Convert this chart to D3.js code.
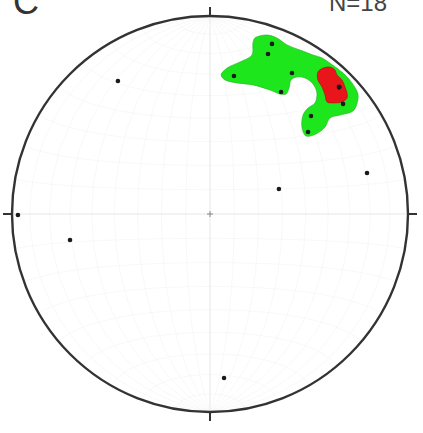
<!DOCTYPE html>
<html><head><meta charset="utf-8">
<script src="https://cdn.jsdelivr.net/npm/d3@7"></script>
<style>html,body{margin:0;padding:0;background:#fff;}svg{display:block;}</style>
</head><body>
<script>
// Poles in normalized net coordinates (east, north), unit circle = primitive
const pointEast  = [-0.465,-0.970,-0.707,0.348,0.793,0.071,0.313,0.293,0.121,0.414,0.359,0.652,0.672,0.510,0.495,0.652,0.652,0.652];
const pointNorth = [ 0.672,-0.005,-0.131,0.126,0.207,-0.828,0.859,0.808,0.697,0.712,0.616,0.641,0.556,0.495,0.414,0.641,0.641,0.641];
const countLabel = "N=18";
const panelLabel = "C";
// Density contour outlines (east, north)
const greenEast  = [0.056,0.086,0.152,0.212,0.217,0.227,0.288,0.338,0.389,0.455,0.520,0.566,0.611,0.672,0.717,0.747,0.742,0.722,0.657,0.606,0.581,0.535,0.485,0.465,0.470,0.495,0.530,0.540,0.520,0.480,0.439,0.409,0.399,0.384,0.354,0.303,0.217,0.136,0.076];
const greenNorth = [0.702,0.737,0.768,0.803,0.864,0.889,0.904,0.889,0.854,0.828,0.803,0.788,0.758,0.712,0.662,0.606,0.556,0.520,0.500,0.485,0.439,0.404,0.394,0.434,0.500,0.535,0.561,0.611,0.657,0.687,0.692,0.677,0.636,0.606,0.606,0.626,0.652,0.662,0.677];
const redEast  = [0.545,0.571,0.606,0.631,0.641,0.667,0.682,0.692,0.692,0.667,0.621,0.591,0.581,0.566,0.545];
const redNorth = [0.717,0.737,0.742,0.727,0.702,0.677,0.641,0.611,0.586,0.566,0.561,0.566,0.601,0.641,0.677];

const W = 423, H = 433, cx = 210, cy = 214, R = 198;
const svg = d3.select("body").append("svg").attr("width", W).attr("height", H);

const x = d3.scaleLinear().domain([-1, 1]).range([cx - R, cx + R]);
const y = d3.scaleLinear().domain([-1, 1]).range([cy + R, cy - R]);

// Faint equal-area net
const proj = d3.geoAzimuthalEqualArea().rotate([0, 0]).clipAngle(90)
  .scale(R / Math.SQRT2).translate([cx, cy]);
const gpath = d3.geoPath(proj);
svg.append("path").datum(d3.geoGraticule().step([10, 10]).extentMajor([[-180,-90],[180,90]]).extentMinor([[-180,-80],[180,80]])())
  .attr("d", gpath).attr("fill", "none").attr("stroke", "#f4f4f4").attr("stroke-width", 0.6);
// diameters
svg.append("line").attr("x1", x(-1)).attr("x2", x(1)).attr("y1", y(0)).attr("y2", y(0))
  .attr("stroke", "#e6e6e6").attr("stroke-width", 0.8);
svg.append("line").attr("x1", x(0)).attr("x2", x(0)).attr("y1", y(-1)).attr("y2", y(1))
  .attr("stroke", "#e6e6e6").attr("stroke-width", 0.8);

const line = d3.line().x(d => x(d[0])).y(d => y(d[1])).curve(d3.curveCatmullRomClosed.alpha(0.5));
svg.append("path").attr("d", line(d3.zip(greenEast, greenNorth)))
  .attr("fill", "#1de61d").attr("stroke", "#22b022").attr("stroke-width", 0.6);
svg.append("path").attr("d", line(d3.zip(redEast, redNorth)))
  .attr("fill", "#e8161a").attr("stroke", "#a01010").attr("stroke-width", 0.6);

// center cross
svg.append("path").attr("d", `M${x(0)-3},${y(0)}H${x(0)+3}M${x(0)},${y(0)-3}V${y(0)+3}`)
  .attr("stroke", "#888").attr("stroke-width", 1);

// primitive circle
svg.append("circle").attr("cx", x(0)).attr("cy", y(0)).attr("r", x(1) - x(0))
  .attr("fill", "none").attr("stroke", "#333").attr("stroke-width", 2.4);
// ticks N E S W
const tickLen = 9 / R;
[[0,1],[1,0],[0,-1],[-1,0]].forEach(([e, n]) => {
  svg.append("line")
    .attr("x1", x(e)).attr("y1", y(n))
    .attr("x2", x(e * (1 + tickLen))).attr("y2", y(n * (1 + tickLen)))
    .attr("stroke", "#333").attr("stroke-width", 2);
});

// points
svg.append("g").selectAll("circle").data(d3.zip(pointEast, pointNorth)).join("circle")
  .attr("cx", d => x(d[0])).attr("cy", d => y(d[1])).attr("r", 2.3)
  .attr("fill", "#1a1a1a");

svg.append("text").attr("x", 13).attr("y", 14).text(panelLabel)
  .attr("font-family", "Liberation Sans, Arial, sans-serif").attr("font-size", 36).attr("fill", "#333");
svg.append("text").attr("x", 329).attr("y", 11).text(countLabel)
  .attr("font-family", "Liberation Sans, Arial, sans-serif").attr("font-size", 24).attr("fill", "#444");
</script>
</body></html>
